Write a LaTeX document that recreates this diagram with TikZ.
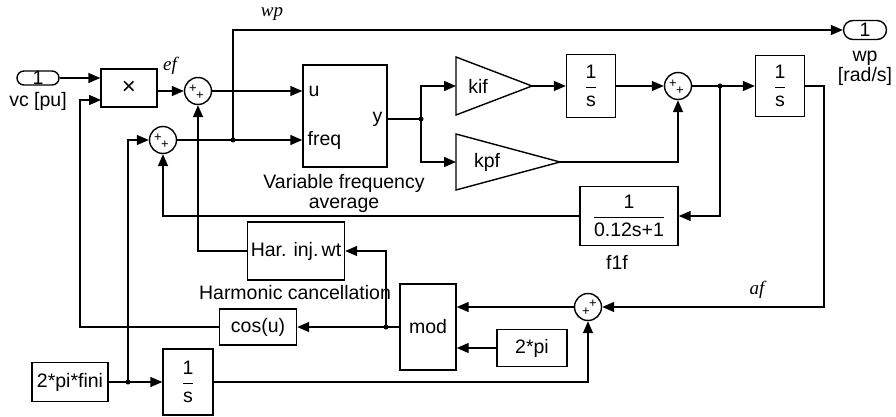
\documentclass[tikz,border=0pt]{standalone}
\usepackage{fontspec}
\setmainfont{Liberation Sans}
\newfontfamily\tnrfont{Liberation Serif}
\usetikzlibrary{arrows.meta,calc}
\newcommand\dfont{\fontsize{19.5}{22}\selectfont}
\newcommand\sgnfont{\fontsize{13}{13}\selectfont}
\newcommand\frc[2]{$\displaystyle\frac{\hbox{#1}}{\hbox{#2}}$}
\begin{document}
\begin{tikzpicture}[x=1pt,y=-1pt,line width=1.4pt,
  every node/.style={font=\dfont},
  arr/.style={-{Triangle[length=12pt,width=10pt]}},
  box/.style={draw,rectangle,inner sep=0pt,align=center},
  sumb/.style={draw,circle,minimum size=27pt,inner sep=0pt},
  pill/.style={draw,rectangle,inner sep=0pt},
  sgn/.style={font=\sgnfont,inner sep=0pt},
  sig/.style={font=\tnrfont\itshape\fontsize{19}{20}\selectfont,inner sep=0pt},
  dot/.style={circle,fill,inner sep=0pt,minimum size=5pt}]
\useasboundingbox (0,0) rectangle (896,417);

% ---- blocks ----
\node[pill,minimum width=42pt,minimum height=14pt,rounded corners=7pt] (vc) at (38,78) {1};
\node (vclab) at (38,101) {vc [pu]};
\node[box,minimum width=56pt,minimum height=38pt] (prod) at (129,88) {\fontsize{24}{24}\selectfont ×};
\node[sumb] (s1) at (198,91) {};
\node[sumb] (s2) at (163,140) {};
\node[box,minimum width=84pt,minimum height=102pt] (vfa) at (345,116) {};
\node[anchor=west,inner sep=0pt] (ulab) at (308,91) {u};
\node[anchor=west,inner sep=0pt] (freqlab) at (307,140) {freq};
\node[anchor=east,inner sep=0pt] (ylab) at (383,119) {y};
\node[align=center,inner sep=0pt] (vfacap) at (344,193) {Variable frequency\\[-2pt]average};

\draw (456,57) -- (532,86) -- (456,115) -- cycle;
\coordinate (kifB) at (456,86);
\coordinate (kifA) at (532,86);
\node (kiflab) at (478,86) {kif};
\draw (456,134) -- (560,162) -- (456,190) -- cycle;
\coordinate (kpfB) at (456,162);
\coordinate (kpfA) at (560,162);
\node (kpflab) at (487,162) {kpf};

\node[box,minimum width=49pt,minimum height=63pt] (int1) at (591,86) {\frc{1}{s}};
\node[sumb] (s3) at (678,86) {};
\node[box,minimum width=49pt,minimum height=61pt] (int2) at (780,86) {\frc{1}{s}};
\node[pill,minimum width=43pt,minimum height=19pt,rounded corners=9.5pt] (wpout) at (865,30) {1};
\node[align=center,inner sep=0pt] (wplab) at (865,68) {wp\\[-2pt][rad/s]};

\node[box,minimum width=98pt,minimum height=59pt] (f1f) at (629,216) {\frc{1}{0.12s+1}};
\node (f1flab) at (617,262) {f1f};

\node[box,minimum width=97pt,minimum height=58pt] (har) at (296,251) {Har.\hspace{7pt}inj.\,wt};
\node (harcap) at (295,293) {Harmonic cancellation};
\node[box,minimum width=77pt,minimum height=36pt] (cos) at (258,327) {cos(u)};
\node[box,minimum width=56pt,minimum height=86pt] (mod) at (428,327) {mod};
\node[box,minimum width=70pt,minimum height=37pt] (tpi) at (532,348) {2*pi};
\node[sumb] (s4) at (588,307) {};
\node[box,minimum width=76pt,minimum height=39pt] (fini) at (70,382) {2*pi*fini};
\node[box,minimum width=50pt,minimum height=66pt] (int3) at (188,382) {\frc{1}{s}};

% ---- signs ----
\foreach \s in {s1,s2,s3}{
  \node[sgn] at ($(\s)+(-5,-2)$) {+};
  \node[sgn] at ($(\s)+(2,5)$) {+};
}
\node[sgn] at ($(s4)+(5,-3)$) {+};
\node[sgn] at ($(s4)+(-2,5)$) {+};

% ---- signal labels ----
\node[sig] (eflab) at (170,66) {ef};
\node[sig] (wpsig) at (272,14) {wp};
\node[sig] (aflab) at (757,290) {af};

% ---- junctions ----
\coordinate (J1) at (233,140);
\coordinate (J2) at (421,119);
\coordinate (J3) at (720,86);
\coordinate (J4) at (386,327);
\coordinate (J5) at (128,382);
\coordinate (c1) at (824,86);
\coordinate (c2) at (80,327);
\coordinate (pin2) at (101,100);

% ---- connectors ----
\draw[arr] (vc.east) -- (prod.west |- vc.east);
\draw[arr] (prod.east |- s1) -- (s1.west);
\draw[arr] (s1.east) -- (vfa.west |- s1.east);
\draw[arr] (s2.east) -- (vfa.west |- s2.east);
\draw[arr] (J1) |- (wpout.west);
\draw (vfa.east |- J2) -- (J2);
\draw[arr] (J2) |- (kifB);
\draw[arr] (J2) |- (kpfB);
\draw[arr] (kifA) -- (int1.west);
\draw[arr] (int1.east) -- (s3.west);
\draw[arr] (kpfA) -| (s3.south);
\draw (s3.east) -- (J3);
\draw[arr] (J3) -- (int2.west);
\draw[arr] (J3) |- (f1f.east);
\draw[arr] (int2.east) -- (c1) |- (s4.east);
\draw[arr] (f1f.west) -| (s2.south);
\draw[arr] (s4.west) -- (mod.east |- s4.west);
\draw[arr] (tpi.west) -- (mod.east |- tpi.west);
\draw (mod.west) -- (J4);
\draw[arr] (J4) -- (cos.east);
\draw[arr] (J4) |- (har.east);
\draw[arr] (har.west) -| (s1.south);
\draw[arr] (cos.west) -- (c2) |- (pin2);
\draw[arr] (fini.east) -- (int3.west);
\draw[arr] (J5) |- (s2.west);
\draw[arr] (int3.east) -| (s4.south);

\foreach \j in {J1,J2,J3,J4,J5} \node[dot] at (\j) {};
\end{tikzpicture}
\end{document}
